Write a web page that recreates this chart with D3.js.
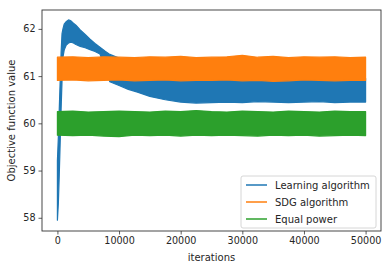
<!DOCTYPE html>
<html>
<head>
<meta charset="utf-8">
<script src="https://cdn.jsdelivr.net/npm/d3@7"></script>
<style>
  body { margin: 0; background: #fff; }
  text { font-family: "DejaVu Sans", sans-serif; fill: #262626; }
</style>
</head>
<body>
<svg id="chart"></svg>
<script>
// envelope of each noisy curve (iteration -> low / high value)
const learnIter = [0, 150, 300, 450, 600, 750, 900, 1100, 1400, 1800, 2200, 2600, 3000, 3700, 4500, 5300, 6100, 6900, 7700, 8500,
    10000, 11500, 13000, 15000, 17500, 20000, 22500, 25000, 27500, 30000, 32500, 35000, 37500, 40000, 42500, 45000, 47500, 50000];
const learnLow = [57.95, 58.3, 58.9, 59.6, 60.3, 60.9, 61.4, 61.55, 61.65, 61.7, 61.72, 61.7, 61.67, 61.63, 61.6, 61.56, 61.52, 61.47, 61.2, 60.88,
    60.8, 60.72, 60.66, 60.57, 60.5, 60.45, 60.43, 60.44, 60.45, 60.44, 60.46, 60.45, 60.44, 60.45, 60.46, 60.44, 60.45, 60.45];
const learnHigh = [59.2, 59.7, 60.3, 60.9, 61.5, 61.9, 62.0, 62.1, 62.15, 62.19, 62.17, 62.12, 62.08, 61.98, 61.88, 61.78, 61.69, 61.61, 61.53, 61.46,
    61.38, 61.3, 61.22, 61.14, 61.06, 61.0, 60.97, 60.95, 60.95, 60.95, 60.95, 60.95, 60.95, 60.95, 60.95, 60.95, 60.95, 60.95];

const flatIter = [0, 2500, 5000, 7500, 10000, 12500, 15000, 17500, 20000, 22500, 25000, 27500, 30000, 32500, 35000, 37500, 40000, 42500, 45000, 47500, 50000];
const sdgLow = [60.91, 60.92, 60.90, 60.91, 60.92, 60.90, 60.91, 60.92, 60.90, 60.91, 60.91, 60.92, 60.90, 60.91, 60.89, 60.90, 60.92, 60.91, 60.90, 60.91, 60.91];
const sdgHigh = [61.40, 61.41, 61.39, 61.41, 61.40, 61.39, 61.41, 61.40, 61.42, 61.39, 61.40, 61.41, 61.44, 61.40, 61.42, 61.39, 61.41, 61.40, 61.41, 61.39, 61.40];
const eqLow = [59.75, 59.74, 59.75, 59.73, 59.72, 59.75, 59.74, 59.75, 59.73, 59.75, 59.74, 59.75, 59.74, 59.73, 59.75, 59.74, 59.75, 59.73, 59.74, 59.75, 59.74];
const eqHigh = [60.25, 60.26, 60.24, 60.25, 60.26, 60.25, 60.24, 60.26, 60.25, 60.27, 60.25, 60.24, 60.26, 60.25, 60.24, 60.26, 60.25, 60.24, 60.26, 60.25, 60.25];

const xTicks = [0, 10000, 20000, 30000, 40000, 50000];
const yTicks = [58, 59, 60, 61, 62];
const seriesNames = ["Learning algorithm", "SDG algorithm", "Equal power"];
const seriesColors = ["#1f77b4", "#ff7f0e", "#2ca02c"];

const width = 390, height = 269;
const margin = { top: 10, right: 9, bottom: 38, left: 42 };

const svg = d3.select("#chart")
    .attr("width", width)
    .attr("height", height);

const x = d3.scaleLinear()
    .domain([-2500, 52500])
    .range([margin.left, width - margin.right]);

const y = d3.scaleLinear()
    .domain([57.72, 62.4])
    .range([height - margin.bottom, margin.top]);

const bands = [
    { iter: learnIter, low: learnLow, high: learnHigh },
    { iter: flatIter, low: sdgLow, high: sdgHigh },
    { iter: flatIter, low: eqLow, high: eqHigh }
];

const area = d3.area()
    .x(d => x(d.i))
    .y0(d => y(d.lo))
    .y1(d => y(d.hi));

bands.forEach((b, k) => {
    const pts = b.iter.map((it, j) => ({ i: it, lo: b.low[j], hi: b.high[j] }));
    svg.append("path")
        .attr("d", area(pts))
        .attr("fill", seriesColors[k])
        .attr("stroke", seriesColors[k])
        .attr("stroke-width", 1.2)
        .attr("stroke-linejoin", "round");
});

// axes
const xAxis = svg.append("g")
    .attr("transform", `translate(0,${height - margin.bottom})`)
    .call(d3.axisBottom(x).tickValues(xTicks).tickFormat(d3.format("d")).tickSizeOuter(0).tickSize(3.5).tickPadding(3));

const yAxis = svg.append("g")
    .attr("transform", `translate(${margin.left},0)`)
    .call(d3.axisLeft(y).tickValues(yTicks).tickFormat(d3.format("d")).tickSizeOuter(0).tickSize(3.5).tickPadding(3));

[xAxis, yAxis].forEach(a => {
    a.select(".domain").remove();
    a.selectAll(".tick line").attr("stroke", "#333").attr("stroke-width", 0.8);
    a.selectAll(".tick text").attr("font-size", 9.6).attr("font-family", "DejaVu Sans").attr("fill", "#262626");
});

// frame
svg.append("rect")
    .attr("x", margin.left)
    .attr("y", margin.top)
    .attr("width", width - margin.left - margin.right)
    .attr("height", height - margin.top - margin.bottom)
    .attr("fill", "none")
    .attr("stroke", "#333")
    .attr("stroke-width", 0.9);

svg.append("text")
    .attr("x", (margin.left + width - margin.right) / 2)
    .attr("y", 261)
    .attr("text-anchor", "middle")
    .attr("font-size", 10)
    .text("iterations");

svg.append("text")
    .attr("transform", `translate(15,${(margin.top + height - margin.bottom) / 2}) rotate(-90)`)
    .attr("text-anchor", "middle")
    .attr("font-size", 10)
    .text("Objective function value");

// legend
const lg = svg.append("g").attr("transform", "translate(241,176)");
lg.append("rect")
    .attr("width", 135)
    .attr("height", 52)
    .attr("rx", 2)
    .attr("fill", "#fff")
    .attr("fill-opacity", 0.8)
    .attr("stroke", "#ccc")
    .attr("stroke-width", 0.8);

seriesNames.forEach((name, k) => {
    const yy = 9 + k * 17;
    lg.append("line")
        .attr("x1", 5).attr("x2", 26)
        .attr("y1", yy).attr("y2", yy)
        .attr("stroke", seriesColors[k])
        .attr("stroke-width", 1.5);
    lg.append("text")
        .attr("x", 34)
        .attr("y", yy + 3.6)
        .attr("font-size", 10)
        .text(name);
});
</script>
</body>
</html>
